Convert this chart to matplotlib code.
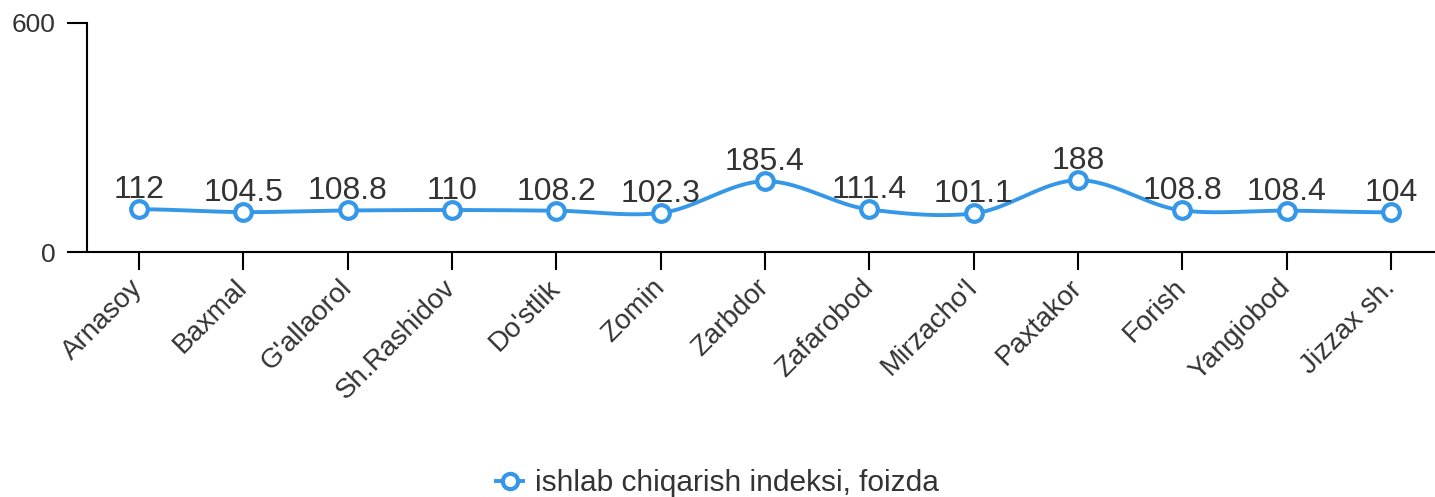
import numpy as np
import matplotlib
matplotlib.use('Agg')
import matplotlib.pyplot as plt
from matplotlib.lines import Line2D

tumanlar = ['Arnasoy', 'Baxmal', "G'allaorol", 'Sh.Rashidov', "Do'stlik", 'Zomin',
            'Zarbdor', 'Zafarobod', "Mirzacho'l", 'Paxtakor', 'Forish', 'Yangiobod', 'Jizzax sh.']
indeks = [112, 104.5, 108.8, 110, 108.2, 102.3, 185.4, 111.4, 101.1, 188, 108.8, 108.4, 104]
yticks = [0, 600]
seriya_nomi = 'ishlab chiqarish indeksi, foizda'

ko_k = '#3497e8'
matn = '#333333'
plt.rcParams['font.family'] = ['Liberation Sans', 'DejaVu Sans']


def silliq(x, y, n=40, k=0.8):
    # hermite spline: silliq chiziq uchun
    x = np.asarray(x, float)
    y = np.asarray(y, float)
    m = np.zeros_like(y)
    m[1:-1] = (y[2:] - y[:-2]) / 2 * k
    xs, ys = [], []
    t = np.linspace(0, 1, n)
    h00 = 2*t**3 - 3*t**2 + 1
    h10 = t**3 - 2*t**2 + t
    h01 = -2*t**3 + 3*t**2
    h11 = t**3 - t**2
    for i in range(len(x) - 1):
        xs.append(x[i] + t * (x[i+1] - x[i]))
        ys.append(h00*y[i] + h10*m[i] + h01*y[i+1] + h11*m[i+1])
    return np.concatenate(xs), np.concatenate(ys)


W, H = 1435, 497
fig = plt.figure(figsize=(W/100, H/100), dpi=100)
ax = fig.add_axes([87/W, 1 - 252/H, (W - 87)/W, (252 - 23)/H])

x = np.arange(len(tumanlar))
sx, sy = silliq(x, indeks)
ax.plot(sx, sy, color=ko_k, lw=2.8, zorder=2)
ax.plot(x, indeks, 'o', ms=12, mfc='white', mec=ko_k, mew=3, zorder=3)

for xi, v in zip(x, indeks):
    ax.annotate(f'{v:g}', (xi, v), xytext=(0, 8), textcoords='offset points',
                ha='center', va='baseline', fontsize=23, color=matn)

qadam = (1391 - 139) / 12
ax.set_ylim(0, 600)
ax.set_yticks(yticks)
ax.set_xlim(-(139 - 87) / qadam, (W - 139) / qadam)
ax.set_xticks(x)
ax.set_xticklabels(tumanlar, rotation=45, ha='right', va='center', rotation_mode='anchor',
                   fontsize=20, color=matn)
ax.tick_params(axis='y', length=14.4, width=1.5, labelsize=19, labelcolor=matn, pad=8)
ax.tick_params(axis='x', length=13, width=1.5, pad=10)
for s in ['top', 'right']:
    ax.spines[s].set_visible(False)
ax.spines['left'].set_linewidth(1.5)
ax.spines['bottom'].set_linewidth(1.5)

h = Line2D([], [], color=ko_k, lw=2.8, marker='o', ms=11, mfc='white', mec=ko_k, mew=3)
fig.legend([h], [seriya_nomi], loc='lower center', bbox_to_anchor=(0.5, -0.055),
           frameon=False, fontsize=21.5, handlelength=0.9, handletextpad=0.4,
           labelcolor=matn)

fig.savefig('out.png', dpi=100)
